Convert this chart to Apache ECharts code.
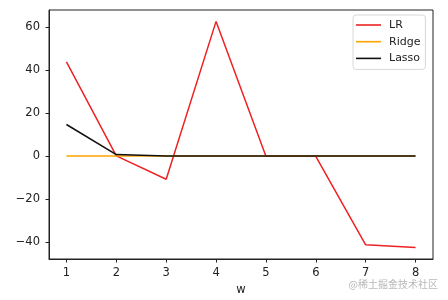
<!DOCTYPE html>
<html>
<head>
<meta charset="utf-8">
<script src="https://cdn.jsdelivr.net/npm/echarts@6/dist/echarts.min.js"></script>
<style>
html,body{margin:0;padding:0;background:#fff;}
#chart{width:448px;height:300px;}
</style>
</head>
<body>
<div id="chart"></div>
<script>
var wIndex = [1, 2, 3, 4, 5, 6, 7, 8];
var lrValues = [44.0, 0.2, -10.7, 62.8, 0.0, 0.0, -41.2, -42.5];
var ridgeValues = [0.1, 0.1, 0.1, 0.1, 0.1, 0.1, 0.1, 0.1];
var lassoValues = [14.8, 0.8, 0.1, 0.1, 0.1, 0.1, 0.1, 0.1];
var xTicks = [1, 2, 3, 4, 5, 6, 7, 8];
var yTicks = [-40, -20, 0, 20, 40, 60];

function pairs(vals) {
  return wIndex.map(function (x, i) { return [x, vals[i]]; });
}

var font = 'DejaVu Sans';
var chart = echarts.init(document.getElementById('chart'), null, {renderer: 'canvas'});
chart.setOption({
  animation: false,
  backgroundColor: '#fff',
  grid: {left: 49, right: 15, top: 10, bottom: 41, containLabel: false, outerBoundsMode: 'none',
    show: true, borderColor: '#222', borderWidth: 1, backgroundColor: 'transparent'},
  xAxis: {
    type: 'value', min: 0.65, max: 8.35,
    name: 'w', nameLocation: 'middle', nameGap: 25,
    nameTextStyle: {fontFamily: font, fontSize: 11.5, color: '#222'},
    axisLine: {show: true, onZero: false, lineStyle: {color: '#222', width: 1}},
    axisTick: {show: true, inside: false, length: 3.5, customValues: xTicks, lineStyle: {color: '#222'}},
    axisLabel: {customValues: xTicks, fontFamily: font, fontSize: 11.5, color: '#222', margin: 8},
    splitLine: {show: false}
  },
  yAxis: {
    type: 'value', min: -47.8, max: 68.1,
    axisLine: {show: true, onZero: false, lineStyle: {color: '#222', width: 1}},
    axisTick: {show: true, inside: false, length: 3.5, customValues: yTicks, lineStyle: {color: '#222'}},
    axisLabel: {customValues: yTicks, fontFamily: font, fontSize: 11.5, color: '#222', margin: 9,
      formatter: function (v) { return v < 0 ? '\u2212' + Math.abs(v) : String(v); }},
    splitLine: {show: false}
  },
  legend: {
    orient: 'vertical', left: 353, top: 15,
    backgroundColor: '#fff', borderColor: '#d8d8d8', borderWidth: 1, borderRadius: 3,
    padding: [4, 5, 5, 3],
    itemWidth: 25, itemHeight: 1.6, itemGap: 4.7,
    icon: 'rect',
    textStyle: {fontFamily: font, fontSize: 11, color: '#222', lineHeight: 12, padding: [0, 0, 0, 3]},
    data: ['LR', 'Ridge', 'Lasso']
  },
  series: [
    {name: 'LR', type: 'line', data: pairs(lrValues), symbol: 'none', lineStyle: {color: '#ee2222', width: 1.5}, itemStyle: {color: '#ee2222'}},
    {name: 'Ridge', type: 'line', data: pairs(ridgeValues), symbol: 'none', lineStyle: {color: '#ffa500', width: 1.5}, itemStyle: {color: '#ffa500'}},
    {name: 'Lasso', type: 'line', data: pairs(lassoValues), symbol: 'none', lineStyle: {color: '#111', width: 1.5}, itemStyle: {color: '#111'}}
  ],
  graphic: [{
    type: 'text', right: 10, top: 279,
    style: {text: '@稀土掘金技术社区', font: '10px "Noto Sans CJK SC"', fill: '#b8b8b8'}
  }]
});
</script>
</body>
</html>
